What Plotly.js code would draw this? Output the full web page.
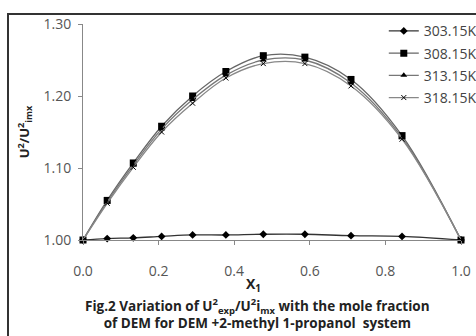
<!DOCTYPE html>
<html>
<head>
<meta charset="utf-8">
<script src="https://cdn.plot.ly/plotly-3.0.1.min.js"></script>
<style>
html,body{margin:0;padding:0;background:#fff;overflow:hidden;width:476px;height:336px;}
#frame{position:absolute;left:7px;top:13px;width:700px;height:700px;border-left:2px solid #333;border-top:2px solid #333;pointer-events:none;z-index:5;}
#chart{position:absolute;left:0;top:0;width:500px;height:336px;}
</style>
</head>
<body>
<div id="chart"></div>
<div id="frame"></div>
<script>
const x1 = [0, 0.064, 0.133, 0.208, 0.29, 0.378, 0.477, 0.587, 0.709, 0.844, 1.0];
const seriesNames = ['303.15K', '308.15K', '313.15K', '318.15K'];
const u303 = [1.000, 1.002, 1.003, 1.005, 1.007, 1.007, 1.008, 1.008, 1.006, 1.005, 1.000];
const u308 = [1.000, 1.055, 1.107, 1.158, 1.200, 1.234, 1.256, 1.254, 1.223, 1.145, 1.000];
const u313 = [1.000, 1.053, 1.104, 1.154, 1.195, 1.229, 1.250, 1.250, 1.218, 1.142, 1.000];
const u318 = [1.000, 1.051, 1.101, 1.150, 1.190, 1.225, 1.245, 1.245, 1.214, 1.140, 1.000];
const yTicks = [1.00, 1.10, 1.20, 1.30];
const xTicks = [0, 0.2, 0.4, 0.6, 0.8, 1.0];

const F = '"Open Sans", "Noto Sans", sans-serif';
const series = [u303, u308, u313, u318];
const symbols = ['diamond', 'square', 'triangle-up', 'x-thin'];
const msizes = [6, 7, 6, 5];
const lcolors = ['#333', '#666', '#777', '#888'];

const traces = series.map((y, i) => ({
  x: x1, y: y, name: seriesNames[i], type: 'scatter', mode: 'lines+markers',
  line: {color: lcolors[i], width: 1.3, shape: 'spline', smoothing: 1},
  marker: {symbol: symbols[i], size: msizes[i], color: '#000', line: {color: '#000', width: i === 3 ? 1 : 0}},
  cliponaxis: false, legendgroup: 'g' + i
}));

const layout = {
  width: 500, height: 336,
  margin: {l: 83, r: 39, t: 24, b: 96},
  paper_bgcolor: '#fff', plot_bgcolor: '#fff',
  showlegend: true,
  legend: {x: 1.055, xanchor: 'right', y: 1.04, yanchor: 'top', bgcolor: 'rgba(0,0,0,0)',
    font: {family: F, size: 14, color: '#444'}, tracegroupgap: 1, itemwidth: 30},
  xaxis: {range: [0, 1], tickvals: xTicks, ticktext: xTicks.map(v => v.toFixed(1)),
    showgrid: false, zeroline: false, showline: true, linecolor: '#888', linewidth: 1,
    ticks: 'outside', ticklen: 4, tickcolor: '#888', ticklabelstandoff: 14,
    tickfont: {family: F, size: 14, color: '#555'}},
  yaxis: {range: [1.0, 1.30], tickvals: yTicks, ticktext: yTicks.map(v => v.toFixed(2)),
    showgrid: false, zeroline: false, showline: true, linecolor: '#888', linewidth: 1,
    ticks: 'outside', ticklen: 4, tickcolor: '#888', ticklabelstandoff: 4,
    tickfont: {family: F, size: 14, color: '#555'},
    title: {text: '<b>U<sup>2</sup>/U<sup>2</sup><sub>imx</sub></b>', font: {family: F, size: 13, color: '#222'}, standoff: 10}},
  annotations: [
    {xref: 'paper', yref: 'paper', x: 0.45, y: -0.205, xanchor: 'center', yanchor: 'middle', showarrow: false,
     text: '<b>X<sub>1</sub></b>', font: {family: F, size: 14, color: '#222'}},
    {xref: 'paper', yref: 'paper', x: 0.462, y: -0.245, xanchor: 'center', yanchor: 'top', showarrow: false,
     align: 'center',
     text: '<b>Fig.2 Variation of U<sup>2</sup><sub>exp</sub>/U<sup>2</sup>i<sub>mx</sub> with the mole fraction<br>of DEM for DEM +2-methyl 1-propanol  system</b>',
     font: {family: F, size: 13.5, color: '#222'}}
  ]
};
Plotly.newPlot('chart', traces, layout, {displayModeBar: false, staticPlot: true});
</script>
</body>
</html>
